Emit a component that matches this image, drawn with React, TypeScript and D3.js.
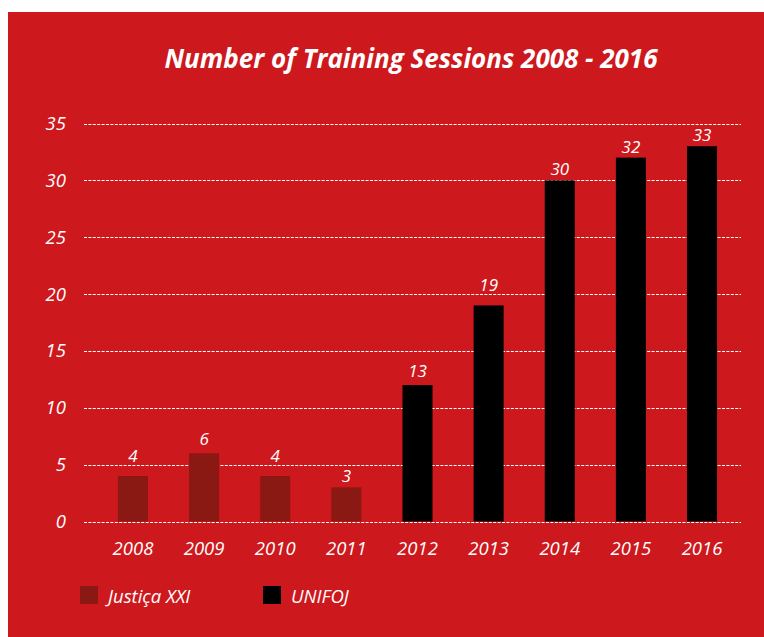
import React from "react";
import * as d3 from "d3";

const YEARS = ["2008", "2009", "2010", "2011", "2012", "2013", "2014", "2015", "2016"];
const SERIES = ["Justiça XXI", "Justiça XXI", "Justiça XXI", "Justiça XXI", "UNIFOJ", "UNIFOJ", "UNIFOJ", "UNIFOJ", "UNIFOJ"];
const BAR_VALUES = [4, 6, 4, 3, 12, 19, 30, 32, 33];
const LABEL_VALUES = [4, 6, 4, 3, 13, 19, 30, 32, 33];
const Y_TICKS = [0, 5, 10, 15, 20, 25, 30, 35];
const LEGEND = ["Justiça XXI", "UNIFOJ"];
const TITLE = "Number of Training Sessions 2008 - 2016";

// style-only: per-label gap above bar top
const LABEL_GAPS = [14, 8, 14, 5, 8, 14, 5, 5, 5];

const W = 764;
const H = 637;
const BG = "#CD181D";
const COLORS: Record<string, string> = { "Justiça XXI": "#8A1813", UNIFOJ: "#000000" };
const FONT = "'Open Sans', sans-serif";

export default function App() {
  const x = d3
    .scaleBand<string>()
    .domain(YEARS)
    .range([97.4, 737.6])
    .paddingInner(0.578)
    .paddingOuter(0.289);
  const y = d3.scaleLinear().domain([0, 35]).range([521.5, 123.5]);

  return (
    <svg
      width={W}
      height={H}
      style={{ position: "absolute", left: 0, top: 0, display: "block" }}
    >
      <rect x={8} y={12} width={W - 8} height={H - 12} fill={BG} />
      <text
        x={411}
        y={68}
        textAnchor="middle"
        fill="#fff"
        fontFamily={FONT}
        fontWeight={700}
        fontStyle="italic"
        fontSize={26}
      >
        {TITLE}
      </text>
      {Y_TICKS.map((t) => (
        <g key={t}>
          <line
            x1={84}
            x2={741}
            y1={Math.round(y(t)) + 0.5}
            y2={Math.round(y(t)) + 0.5}
            stroke="#fff"
            strokeWidth={1.2}
            strokeDasharray="3 1.4"
          />
          <text
            x={66}
            y={y(t) + 6.5}
            textAnchor="end"
            fill="#fff"
            fontFamily={FONT}
            fontStyle="italic"
            fontSize={18.5}
          >
            {t}
          </text>
        </g>
      ))}
      {YEARS.map((yr, i) => (
        <g key={yr}>
          <rect
            x={x(yr)}
            y={y(BAR_VALUES[i])}
            width={x.bandwidth()}
            height={y(0) - y(BAR_VALUES[i])}
            fill={COLORS[SERIES[i]]}
          />
          <text
            x={(x(yr) as number) + x.bandwidth() / 2}
            y={y(BAR_VALUES[i]) - LABEL_GAPS[i]}
            textAnchor="middle"
            fill="#fff"
            fontFamily={FONT}
            fontStyle="italic"
            fontSize={17}
          >
            {LABEL_VALUES[i]}
          </text>
          <text
            x={(x(yr) as number) + x.bandwidth() / 2}
            y={555}
            textAnchor="middle"
            fill="#fff"
            fontFamily={FONT}
            fontStyle="italic"
            fontSize={18.5}
          >
            {yr}
          </text>
        </g>
      ))}
      {LEGEND.map((s, i) => {
        const lx = i === 0 ? 80 : 263;
        return (
          <g key={s}>
            <rect x={lx} y={586} width={18} height={18} fill={COLORS[s]} />
            <text
              x={lx + 28}
              y={603}
              fill="#fff"
              fontFamily={FONT}
              fontStyle="italic"
              fontSize={18.5}
            >
              {s}
            </text>
          </g>
        );
      })}
    </svg>
  );
}
